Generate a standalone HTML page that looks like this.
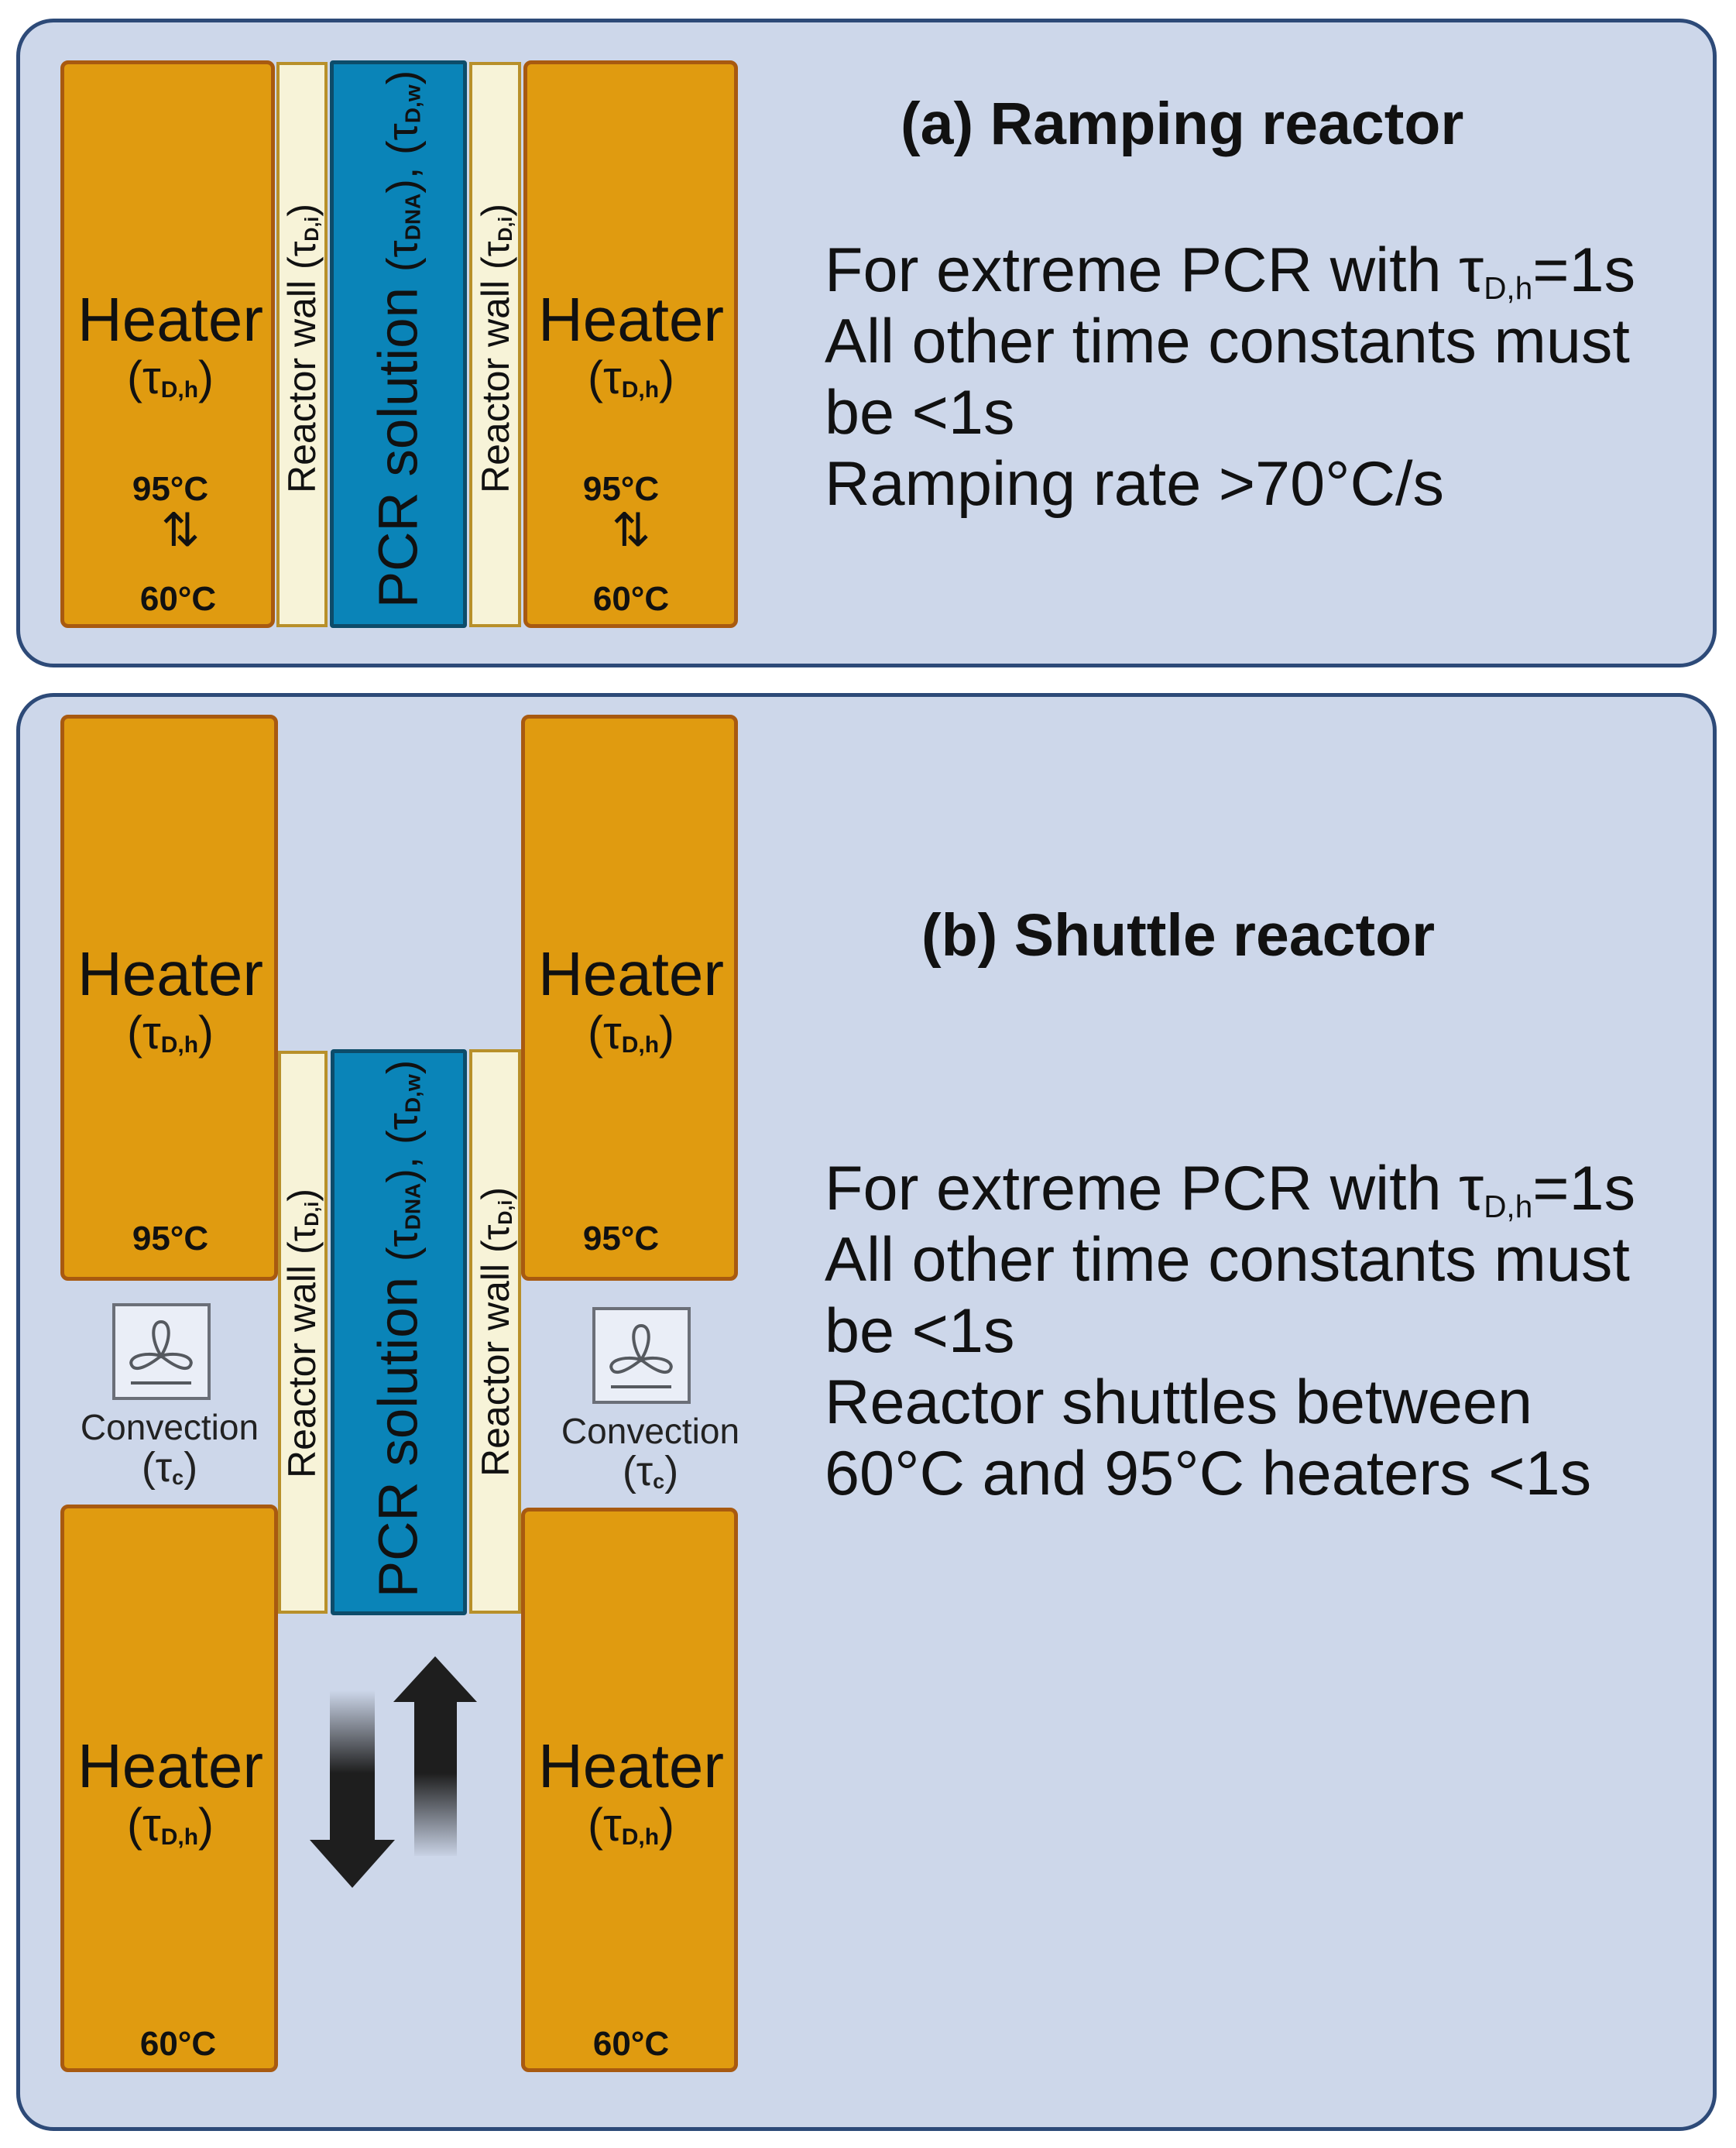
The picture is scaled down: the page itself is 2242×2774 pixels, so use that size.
<!DOCTYPE html>
<html><head><meta charset="utf-8"><style>
body{margin:0;width:2242px;height:2774px;background:#fff;position:relative;overflow:hidden;font-family:"Liberation Sans",sans-serif;color:#111}
.abs{position:absolute}
.panel{position:absolute;left:21px;width:2196px;background:#cdd7ea;border:5px solid #2d4a78;border-radius:48px;box-sizing:border-box}
.heater{position:absolute;background:#e09b10;border:5px solid #a85a10;border-radius:10px;box-sizing:border-box}
.wall{position:absolute;background:#f7f3d8;border:4px solid #b8902a;box-sizing:border-box}
.pcr{position:absolute;background:#0a84b8;border:5px solid #0d4c6a;border-radius:4px;box-sizing:border-box}
.ht{position:absolute;font-size:80px;line-height:1;white-space:nowrap;transform:translateX(-50%)}
.tau{position:absolute;font-size:60px;line-height:1;white-space:nowrap;transform:translateX(-50%)}
.sub{font-size:0.5em;font-weight:bold;position:relative;top:0.15em;line-height:0}
.bsub{font-size:0.5em;position:relative;top:0.25em;line-height:0}
.temp{position:absolute;font-size:44px;font-weight:bold;line-height:1;white-space:nowrap;transform:translateX(-50%)}
.rot{position:absolute;white-space:nowrap;line-height:1;transform:translate(-50%,-50%) rotate(-90deg)}
.title{position:absolute;font-size:77px;font-weight:bold;white-space:nowrap;line-height:1}
.body{position:absolute;left:1065px;font-size:81px;line-height:92px;white-space:nowrap}
.conv{position:absolute;font-size:46px;line-height:1;white-space:nowrap;transform:translateX(-50%);color:#222}
</style></head><body>

<!-- Panel a -->
<div class="panel" style="top:24px;height:838px"></div>
<div class="heater" style="left:78px;top:78px;width:277px;height:733px"></div>
<div class="wall" style="left:357px;top:80px;width:66px;height:730px"></div>
<div class="pcr" style="left:426px;top:78px;width:177px;height:733px"></div>
<div class="wall" style="left:606px;top:80px;width:67px;height:730px"></div>
<div class="heater" style="left:676px;top:78px;width:277px;height:733px"></div>

<div class="ht" style="left:220px;top:373px">Heater</div>
<div class="tau" style="left:220px;top:458px">(τ<span class="sub">D,h</span>)</div>
<div class="temp" style="left:220px;top:610px">95°C</div>
<div class="abs" style="left:208px;top:655px;font-size:60px;line-height:1">⇅</div>
<div class="temp" style="left:230px;top:752px">60°C</div>

<div class="ht" style="left:815px;top:373px">Heater</div>
<div class="tau" style="left:815px;top:458px">(τ<span class="sub">D,h</span>)</div>
<div class="temp" style="left:802px;top:610px">95°C</div>
<div class="abs" style="left:790px;top:655px;font-size:60px;line-height:1">⇅</div>
<div class="temp" style="left:815px;top:752px">60°C</div>

<div class="rot" style="left:390px;top:450px;font-size:50px">Reactor wall (τ<span class="sub">D,i</span>)</div>
<div class="rot" style="left:640px;top:450px;font-size:50px">Reactor wall (τ<span class="sub">D,i</span>)</div>
<div class="rot" style="left:515px;top:438px;font-size:71px">PCR solution <span style="font-size:56px">(τ<span class="sub">DNA</span>), (τ<span class="sub">D,w</span>)</span></div>

<div class="title" style="left:1163px;top:122px">(a) Ramping reactor</div>
<div class="body" style="top:303px">For extreme PCR with τ<span class="bsub">D,h</span>=1s<br>All other time constants must<br>be &lt;1s<br>Ramping rate &gt;70°C/s</div>

<!-- Panel b -->
<div class="panel" style="top:895px;height:1857px"></div>
<div class="heater" style="left:78px;top:923px;width:281px;height:731px"></div>
<div class="heater" style="left:673px;top:923px;width:280px;height:731px"></div>
<div class="heater" style="left:78px;top:1943px;width:281px;height:733px"></div>
<div class="heater" style="left:673px;top:1947px;width:280px;height:729px"></div>
<div class="wall" style="left:359px;top:1357px;width:64px;height:727px"></div>
<div class="pcr" style="left:427px;top:1355px;width:176px;height:731px"></div>
<div class="wall" style="left:606px;top:1355px;width:67px;height:729px"></div>

<div class="ht" style="left:220px;top:1218px">Heater</div>
<div class="tau" style="left:220px;top:1304px">(τ<span class="sub">D,h</span>)</div>
<div class="temp" style="left:220px;top:1578px">95°C</div>
<div class="ht" style="left:815px;top:1218px">Heater</div>
<div class="tau" style="left:815px;top:1304px">(τ<span class="sub">D,h</span>)</div>
<div class="temp" style="left:802px;top:1578px">95°C</div>

<div class="ht" style="left:220px;top:2241px">Heater</div>
<div class="tau" style="left:220px;top:2327px">(τ<span class="sub">D,h</span>)</div>
<div class="temp" style="left:230px;top:2618px">60°C</div>
<div class="ht" style="left:815px;top:2241px">Heater</div>
<div class="tau" style="left:815px;top:2327px">(τ<span class="sub">D,h</span>)</div>
<div class="temp" style="left:815px;top:2618px">60°C</div>

<div class="rot" style="left:390px;top:1722px;font-size:50px">Reactor wall (τ<span class="sub">D,i</span>)</div>
<div class="rot" style="left:640px;top:1720px;font-size:50px">Reactor wall (τ<span class="sub">D,i</span>)</div>
<div class="rot" style="left:515px;top:1716px;font-size:71px">PCR solution <span style="font-size:56px">(τ<span class="sub">DNA</span>), (τ<span class="sub">D,w</span>)</span></div>

<!-- fan icons -->
<svg class="abs" style="left:145px;top:1683px" width="127" height="125" viewBox="0 0 127 125">
<rect x="2" y="2" width="123" height="121" fill="#eaeef7" stroke="#6b6f78" stroke-width="4"/>
<g fill="none" stroke="#55595f" stroke-width="4">
<path d="M63 68 C50 48 50 24 63 24 C76 24 76 48 63 68 Z"/>
<path d="M63 68 C48 80 30 90 25 80 C20 70 40 62 63 68 Z"/>
<path d="M63 68 C78 80 96 90 101 80 C106 70 86 62 63 68 Z"/>
<line x1="24" y1="103" x2="102" y2="103"/>
</g></svg>
<svg class="abs" style="left:765px;top:1688px" width="127" height="125" viewBox="0 0 127 125">
<rect x="2" y="2" width="123" height="121" fill="#eaeef7" stroke="#6b6f78" stroke-width="4"/>
<g fill="none" stroke="#55595f" stroke-width="4">
<path d="M63 68 C50 48 50 24 63 24 C76 24 76 48 63 68 Z"/>
<path d="M63 68 C48 80 30 90 25 80 C20 70 40 62 63 68 Z"/>
<path d="M63 68 C78 80 96 90 101 80 C106 70 86 62 63 68 Z"/>
<line x1="24" y1="103" x2="102" y2="103"/>
</g></svg>
<div class="conv" style="left:219px;top:1820px">Convection</div>
<div class="conv" style="left:219px;top:1868px;font-size:54px">(τ<span class="sub">c</span>)</div>
<div class="conv" style="left:840px;top:1825px">Convection</div>
<div class="conv" style="left:840px;top:1873px;font-size:54px">(τ<span class="sub">c</span>)</div>

<!-- shuttle arrows -->
<svg class="abs" style="left:390px;top:2130px" width="240" height="320" viewBox="390 2130 240 320">
<defs>
<linearGradient id="gd" x1="0" y1="2183" x2="0" y2="2290" gradientUnits="userSpaceOnUse"><stop offset="0" stop-color="#1e1e1e" stop-opacity="0"/><stop offset="1" stop-color="#1e1e1e"/></linearGradient>
<linearGradient id="gu" x1="0" y1="2290" x2="0" y2="2400" gradientUnits="userSpaceOnUse"><stop offset="0" stop-color="#1e1e1e"/><stop offset="1" stop-color="#1e1e1e" stop-opacity="0"/></linearGradient>
</defs>
<rect x="426" y="2183" width="58" height="195" fill="url(#gd)"/>
<polygon points="400,2376 510,2376 455,2438" fill="#1e1e1e"/>
<polygon points="508,2198 562,2139 616,2198" fill="#1e1e1e"/>
<rect x="535" y="2197" width="55" height="200" fill="url(#gu)"/>
</svg>

<div class="title" style="left:1190px;top:1170px">(b) Shuttle reactor</div>
<div class="body" style="top:1489px">For extreme PCR with τ<span class="bsub">D,h</span>=1s<br>All other time constants must<br>be &lt;1s<br>Reactor shuttles between<br>60°C and 95°C heaters &lt;1s</div>

</body></html>
